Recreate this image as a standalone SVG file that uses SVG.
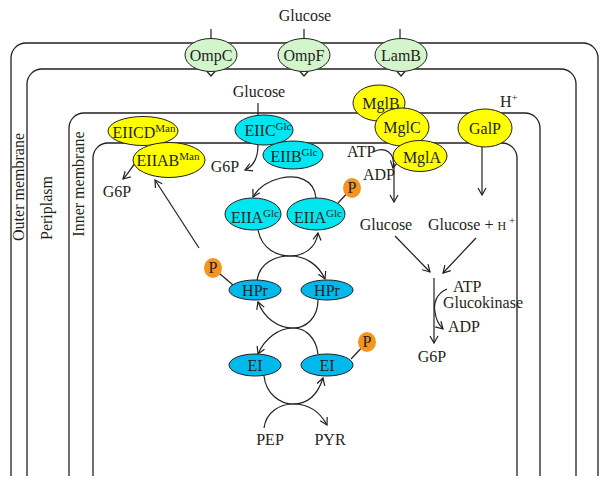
<svg xmlns="http://www.w3.org/2000/svg" width="609" height="486" viewBox="0 0 609 486">
<style>
text{font-family:"Liberation Serif","Times New Roman",serif;font-size:16px;fill:#231f20}
.mem{fill:none;stroke:#231f20;stroke-width:1.3}
.con{fill:none;stroke:#231f20;stroke-width:1.2}
.arr{marker-end:url(#ah)}
.porin{fill:#d2f5cc;stroke:#231f20;stroke-width:1}
.yel{fill:#ffff00;stroke:#231f20;stroke-width:1}
.cyan{fill:#00e6f0;stroke:#231f20;stroke-width:1}
.blue{fill:#00b9ec;stroke:#231f20;stroke-width:1}
.pho{fill:#f7941d;stroke:none}
.sup{font-size:11px}
.c{text-anchor:middle}
</style>
<defs>
<marker id="ah" markerUnits="userSpaceOnUse" markerWidth="12" markerHeight="12" refX="8" refY="5" orient="auto">
<path d="M1,1 L8,5 L1,9" fill="none" stroke="#231f20" stroke-width="1.2"/>
</marker>
</defs>
<rect width="609" height="486" fill="#ffffff"/>

<g id="membranes">
<path class="mem" d="M11,476 V58 A15,15 0 0 1 26,43 H583 A15,15 0 0 1 598,58 V476"/>
<path class="mem" d="M27,476 V84 A15,15 0 0 1 42,69 H561 A15,15 0 0 1 576,84 V476"/>
<path class="mem" d="M69,476 V128 A15,15 0 0 1 84,113 H525 A15,15 0 0 1 540,128 V476"/>
<path class="mem" d="M93,476 V158 A15,15 0 0 1 108,143 H502 A15,15 0 0 1 517,158 V476"/>
<text transform="translate(24,187) rotate(-90)" class="c">Outer membrane</text>
<text transform="translate(52,208) rotate(-90)" class="c">Periplasm</text>
<text transform="translate(84,184) rotate(-90)" class="c">Inner membrane</text>
</g>

<g id="connectors">
<line class="con" x1="211" y1="29" x2="211" y2="39"/>
<line class="con" x1="304" y1="29" x2="304" y2="39"/>
<line class="con" x1="400" y1="29" x2="400" y2="39"/>
<line class="con" x1="258" y1="103" x2="258" y2="116"/>
<path class="con arr" d="M258,145 C258,158 254,166 245,170"/>
<path class="con arr" d="M136,162 C131,168 128,174 123,179"/>
<path class="con arr" d="M199,248 L155,180"/>
<path class="con arr" d="M316,198 C314,178 296,175 281,178 C268,181 258,188 253,197"/>
<path class="con arr" d="M258,230 C262,250 278,256 290,256 C304,256 316,248 318,233"/>
<path class="con arr" d="M257,280 C260,262 276,256 290,256 C305,256 318,264 325,279"/>
<path class="con arr" d="M318,300 C318,318 306,328 293,328 C278,328 264,318 258,302"/>
<path class="con arr" d="M318,354 C316,338 306,328 293,328 C279,328 265,338 258,354"/>
<path class="con arr" d="M264,376 C266,394 280,404 293,404 C308,404 318,394 323,378"/>
<path class="con arr" d="M264,428 C266,412 280,404 293,404 C308,404 320,412 327,425"/>
<line class="con" x1="213" y1="268" x2="233" y2="285"/>
<line class="con" x1="352" y1="188" x2="338" y2="203"/>
<line class="con" x1="367" y1="342" x2="351" y2="359"/>
<path class="con arr" d="M373,152 C384,146 396,152 393,168"/>
<path class="con arr" d="M394,163 L394,202"/>
<path class="con arr" d="M482,147 L482,195"/>
<path class="con arr" d="M395,236 L430,272"/>
<path class="con arr" d="M476,238 L443,273"/>
<path class="con arr" d="M434,278 L434,343"/>
<path class="con arr" d="M447,289 C437,293 433,303 435,312 C436,320 439,325 443,329"/>
</g>

<text x="305" y="21" class="c">Glucose</text>

<g id="OmpC"><ellipse class="porin" cx="211" cy="55" rx="26" ry="16.5"/><path class="con" d="M207,71.5 L211,76 L215,71.5"/><text x="211" y="61" class="c">OmpC</text></g>
<g id="OmpF"><ellipse class="porin" cx="304" cy="55" rx="26" ry="16.5"/><path class="con" d="M300,71.5 L304,76 L308,71.5"/><text x="304" y="61" class="c">OmpF</text></g>
<g id="LamB"><ellipse class="porin" cx="401" cy="55" rx="26" ry="16.5"/><path class="con" d="M397,71.5 L401,76 L405,71.5"/><text x="401" y="61" class="c">LamB</text></g>

<text x="259" y="97" class="c">Glucose</text>

<g id="EIICD_Man"><ellipse class="yel" cx="143" cy="131" rx="35" ry="14.5"/><text x="144" y="138" class="c">EIICD<tspan class="sup" dy="-6" font-size="12">Man</tspan></text></g>
<g id="EIIAB_Man"><ellipse class="yel" cx="169" cy="160" rx="36" ry="17.5"/><text x="168" y="166" class="c">EIIAB<tspan class="sup" dy="-6" font-size="12">Man</tspan></text></g>
<text x="117" y="197" class="c">G6P</text>

<g id="EIIC_Glc"><ellipse class="cyan" cx="264" cy="130" rx="29" ry="15"/><text x="268" y="136" class="c">EIIC<tspan class="sup" dy="-6">Glc</tspan></text></g>
<g id="EIIB_Glc"><ellipse class="cyan" cx="293" cy="155" rx="30" ry="14"/><text x="294" y="162" class="c">EIIB<tspan class="sup" dy="-6">Glc</tspan></text></g>
<text x="225" y="172" class="c">G6P</text>

<g id="EIIA_Glc_1"><ellipse class="cyan" cx="253" cy="214" rx="28" ry="16"/><text x="255" y="223" class="c">EIIA<tspan class="sup" dy="-6">Glc</tspan></text></g>
<g id="EIIA_Glc_2"><ellipse class="cyan" cx="316" cy="214" rx="29" ry="16"/><text x="318" y="223" class="c">EIIA<tspan class="sup" dy="-6">Glc</tspan></text></g>
<g id="P_EIIA"><ellipse class="pho" cx="352" cy="188" rx="9" ry="10"/><text x="352" y="193" class="c" font-size="15">P</text></g>

<g id="HPr_1"><ellipse class="blue" cx="255" cy="290" rx="26" ry="10"/><text x="255" y="296" class="c">HPr</text></g>
<g id="HPr_2"><ellipse class="blue" cx="327" cy="290" rx="26" ry="10"/><text x="327" y="296" class="c">HPr</text></g>
<g id="P_HPr"><ellipse class="pho" cx="213" cy="268" rx="9" ry="10"/><text x="213" y="273" class="c" font-size="15">P</text></g>

<g id="EI_1"><ellipse class="blue" cx="255" cy="365" rx="26" ry="11"/><text x="255" y="371" class="c">EI</text></g>
<g id="EI_2"><ellipse class="blue" cx="327" cy="365" rx="26" ry="11"/><text x="327" y="371" class="c">EI</text></g>
<g id="P_EI"><ellipse class="pho" cx="367" cy="342" rx="9" ry="10"/><text x="367" y="347" class="c" font-size="15">P</text></g>

<text x="270" y="445" class="c">PEP</text>
<text x="330" y="445" class="c">PYR</text>

<g id="MglB"><ellipse class="yel" cx="379" cy="103" rx="26" ry="18"/><text x="381" y="109" class="c">MglB</text></g>
<g id="MglC"><ellipse class="yel" cx="402" cy="127" rx="27" ry="19"/><text x="402" y="133" class="c">MglC</text></g>
<g id="MglA"><ellipse class="yel" cx="420" cy="156" rx="27" ry="15.5"/><text x="422" y="163" class="c">MglA</text></g>
<g id="GalP"><ellipse class="yel" cx="485" cy="128" rx="27" ry="19"/><text x="485" y="134" class="c">GalP</text></g>
<text x="500" y="107">H<tspan class="sup" dy="-6">+</tspan></text>

<text x="347" y="157">ATP</text>
<text x="363" y="180">ADP</text>
<text x="386" y="230" class="c">Glucose</text>
<text x="428" y="230">Glucose + <tspan font-size="12">H</tspan><tspan class="sup" dy="-6"> +</tspan></text>
<text x="453" y="292">ATP</text>
<text x="443" y="308">Glucokinase</text>
<text x="448" y="332">ADP</text>
<text x="432" y="362" class="c">G6P</text>
</svg>
